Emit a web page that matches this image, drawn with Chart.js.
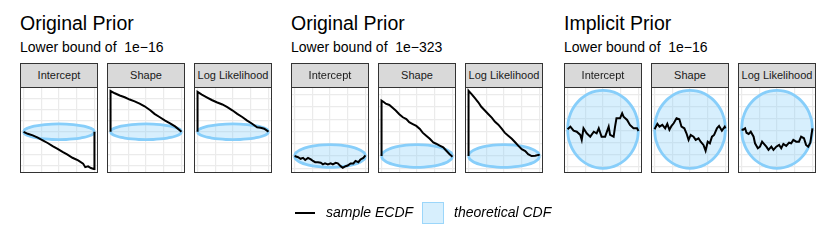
<!DOCTYPE html>
<html>
<head>
<meta charset="utf-8">
<script src="https://cdn.jsdelivr.net/npm/chart.js@4.4.0/dist/chart.umd.min.js"></script>
<style>
  body { margin: 0; width: 830px; height: 249px; background: #fff; position: relative; overflow: hidden;
         font-family: "Liberation Sans", Arial, sans-serif; color: #000; }
  .title { position: absolute; top: 14px; font-size: 19.5px; line-height: 1; white-space: pre; }
  .subtitle { position: absolute; top: 40px; font-size: 14px; line-height: 1; white-space: pre; }
  .strip { position: absolute; top: 63px; width: 78px; height: 25px; box-sizing: border-box; border: 1px solid #333;
           background: #d9d9d9; font-size: 11px; line-height: 23px; text-align: center; color: #1a1a1a; white-space: nowrap; overflow: hidden; }
  .panel { position: absolute; top: 87px; width: 78px; height: 86px; }
  .panel canvas { position: absolute; left: 0; top: 0; }
  .frame { position: absolute; left: 0; top: 0; width: 78px; height: 86px; box-sizing: border-box; border: 1px solid #333; }
  .legend-text { position: absolute; top: 205px; font-size: 14px; line-height: 1; font-style: italic; white-space: pre; }
  .legend-line { position: absolute; left: 295px; top: 212px; width: 20px; height: 2px; background: #000; }
  .legend-box { position: absolute; left: 422px; top: 202px; width: 22px; height: 22px; box-sizing: border-box;
                border: 1.5px solid rgba(135, 206, 250, 0.75); background: rgba(135, 206, 250, 0.33); }
</style>
</head>
<body>
<script>
// facet labels
const facetNames = ['Intercept', 'Shape', 'Log Likelihood'];

// grid lines (x shared, y per group)
const xGrid = [0, 0.25, 0.5, 0.75, 1];
const g1Grid = [-0.75, -0.5, -0.25, 0, 0.25, 0.5, 0.75];
const g2Grid = [-0.2, 0, 0.2, 0.4, 0.6, 0.8, 1.0];
const g3Grid = [-0.186, -0.126, -0.066, -0.006, 0.054, 0.114, 0.174];

// theoretical band
const bandX = [0, 0.01, 0.03, 0.06, 0.1, 0.15, 0.2, 0.3, 0.4, 0.5, 0.6, 0.7, 0.8, 0.85, 0.9, 0.94, 0.97, 0.99, 1];
const band1Upper = [0, 0.035, 0.06, 0.083, 0.105, 0.125, 0.14, 0.16, 0.172, 0.175, 0.172, 0.16, 0.14, 0.125, 0.105, 0.083, 0.06, 0.035, 0];
const band1Lower = [0, -0.035, -0.06, -0.083, -0.105, -0.125, -0.14, -0.16, -0.172, -0.175, -0.172, -0.16, -0.14, -0.125, -0.105, -0.083, -0.06, -0.035, 0];
const band2Upper = [0, 0.037, 0.063, 0.088, 0.111, 0.132, 0.148, 0.17, 0.181, 0.185, 0.181, 0.17, 0.148, 0.132, 0.111, 0.088, 0.063, 0.037, 0];
const band2Lower = [0, -0.037, -0.063, -0.088, -0.111, -0.132, -0.148, -0.17, -0.181, -0.185, -0.181, -0.17, -0.148, -0.132, -0.111, -0.088, -0.063, -0.037, 0];
const band3Upper = [0, 0.039, 0.066, 0.093, 0.117, 0.139, 0.156, 0.179, 0.191, 0.195, 0.191, 0.179, 0.156, 0.139, 0.117, 0.093, 0.066, 0.039, 0];
const band3Lower = [0, -0.039, -0.066, -0.093, -0.117, -0.139, -0.156, -0.179, -0.191, -0.195, -0.191, -0.179, -0.156, -0.139, -0.117, -0.093, -0.066, -0.039, 0];

// sample ECDF difference, Original Prior 1e-16
const g1InterceptX = [0, 0.06, 0.13, 0.2, 0.27, 0.34, 0.41, 0.48, 0.55, 0.62, 0.69, 0.77, 0.84, 0.87, 0.91, 0.95, 0.99, 1, 1];
const g1InterceptY = [0, -0.045, -0.08, -0.13, -0.19, -0.25, -0.32, -0.38, -0.45, -0.51, -0.58, -0.64, -0.71, -0.79, -0.77, -0.81, -0.83, -0.83, 0];
const g1ShapeX = [0, 0, 0.06, 0.13, 0.2, 0.27, 0.34, 0.41, 0.48, 0.56, 0.62, 0.69, 0.77, 0.84, 0.91, 0.98, 1];
const g1ShapeY = [0, 0.91, 0.86, 0.81, 0.77, 0.72, 0.68, 0.63, 0.57, 0.48, 0.40, 0.33, 0.25, 0.19, 0.12, 0.03, 0];
const g1LogLikX = [0, 0, 0.06, 0.13, 0.2, 0.27, 0.35, 0.42, 0.49, 0.56, 0.63, 0.70, 0.77, 0.84, 0.89, 0.94, 0.99, 1];
const g1LogLikY = [0, 0.89, 0.83, 0.77, 0.71, 0.66, 0.61, 0.55, 0.48, 0.40, 0.33, 0.25, 0.18, 0.10, 0.09, 0.07, 0.015, 0];

// Original Prior 1e-323
const g2InterceptX = [0, 0.05, 0.085, 0.12, 0.15, 0.19, 0.23, 0.26, 0.29, 0.33, 0.37, 0.40, 0.43, 0.47, 0.51, 0.54, 0.58, 0.61, 0.65, 0.68, 0.72, 0.75, 0.79, 0.83, 0.86, 0.9, 0.93, 0.97, 1];
const g2InterceptY = [0, -0.02, -0.045, -0.03, -0.065, -0.03, -0.055, -0.08, -0.1, -0.1, -0.11, -0.135, -0.12, -0.135, -0.12, -0.135, -0.11, -0.12, -0.165, -0.19, -0.165, -0.155, -0.12, -0.12, -0.08, -0.1, -0.055, -0.03, 0.01];
const g2ShapeX = [0, 0, 0.04, 0.06, 0.11, 0.16, 0.2, 0.25, 0.3, 0.35, 0.39, 0.44, 0.49, 0.54, 0.58, 0.63, 0.68, 0.73, 0.77, 0.82, 0.87, 0.91, 0.96, 1];
const g2ShapeY = [0, 0.9, 0.87, 0.85, 0.83, 0.78, 0.74, 0.68, 0.63, 0.6, 0.55, 0.52, 0.49, 0.44, 0.38, 0.33, 0.28, 0.22, 0.2, 0.17, 0.14, 0.09, 0.03, -0.01];
const g2LogLikX = [0, 0, 0.04, 0.09, 0.14, 0.18, 0.23, 0.28, 0.33, 0.37, 0.42, 0.47, 0.51, 0.56, 0.61, 0.66, 0.7, 0.75, 0.8, 0.84, 0.89, 0.94, 0.99, 1];
const g2LogLikY = [0, 1.06, 1.01, 0.94, 0.87, 0.8, 0.74, 0.68, 0.62, 0.56, 0.51, 0.44, 0.38, 0.33, 0.28, 0.22, 0.17, 0.11, 0.08, 0.03, 0, 0.005, 0.02, 0.005];

// Implicit Prior 1e-16
const g3InterceptX = [0, 0.04, 0.085, 0.13, 0.18, 0.2, 0.225, 0.27, 0.32, 0.37, 0.41, 0.44, 0.48, 0.53, 0.58, 0.6, 0.65, 0.67, 0.69, 0.74, 0.77, 0.79, 0.84, 0.88, 0.93, 0.98, 1];
const g3InterceptY = [0, 0.013, -0.007, -0.012, -0.028, -0.053, 0.005, -0.02, -0.037, -0.012, -0.02, 0.005, -0.037, -0.037, 0.013, -0.028, -0.037, 0.013, 0.055, 0.055, 0.08, 0.063, 0.047, 0.022, 0.005, 0.005, -0.008];
const g3ShapeX = [0, 0.04, 0.07, 0.11, 0.15, 0.18, 0.21, 0.24, 0.27, 0.31, 0.35, 0.38, 0.42, 0.45, 0.48, 0.51, 0.55, 0.58, 0.62, 0.65, 0.69, 0.72, 0.75, 0.78, 0.81, 0.84, 0.88, 0.91, 0.95, 0.99, 1];
const g3ShapeY = [0, 0.027, 0.013, 0.022, 0.005, 0.027, -0.003, 0.017, 0.03, 0.055, 0.05, 0.013, 0.005, -0.02, -0.053, -0.028, -0.037, -0.053, -0.045, -0.062, -0.078, -0.107, -0.062, -0.07, -0.037, -0.028, 0.005, 0.017, -0.007, 0.013, 0.005];
const g3LogLikX = [0, 0.02, 0.05, 0.07, 0.1, 0.13, 0.17, 0.19, 0.23, 0.26, 0.29, 0.31, 0.35, 0.38, 0.42, 0.45, 0.49, 0.53, 0.56, 0.59, 0.63, 0.67, 0.7, 0.73, 0.77, 0.81, 0.84, 0.88, 0.91, 0.94, 0.97, 1];
const g3LogLikY = [0, -0.003, 0.005, -0.017, -0.023, -0.012, -0.037, -0.07, -0.095, -0.087, -0.062, -0.07, -0.087, -0.103, -0.087, -0.103, -0.087, -0.078, -0.095, -0.073, -0.083, -0.067, -0.07, -0.053, -0.062, -0.062, -0.037, -0.045, -0.078, -0.087, -0.067, 0.005];

const bandLine = '#87cefa';
const bandFill = 'rgba(135, 206, 250, 0.33)';

const groups = [
    { left: 20, title: 'Original Prior', bound: '1e\u221216', yMin: -0.92, yMax: 1.0, yGrid: g1Grid,
      upper: band1Upper, lower: band1Lower,
      series: [[g1InterceptX, g1InterceptY], [g1ShapeX, g1ShapeY], [g1LogLikX, g1LogLikY]] },
    { left: 291, title: 'Original Prior', bound: '1e\u2212323', yMin: -0.276, yMax: 1.122, yGrid: g2Grid,
      upper: band2Upper, lower: band2Lower,
      series: [[g2InterceptX, g2InterceptY], [g2ShapeX, g2ShapeY], [g2LogLikX, g2LogLikY]] },
    { left: 564, title: 'Implicit Prior', bound: '1e\u221216', yMin: -0.2185, yMax: 0.2115, yGrid: g3Grid,
      upper: band3Upper, lower: band3Lower,
      series: [[g3InterceptX, g3InterceptY], [g3ShapeX, g3ShapeY], [g3LogLikX, g3LogLikY]] },
];
const panelOffsets = [0, 87, 174];

function toPoints(xs, ys) {
    return xs.map((x, i) => ({ x: x, y: ys[i] }));
}

function addDiv(cls, left, text) {
    const div = document.createElement('div');
    div.className = cls;
    div.style.left = left + 'px';
    if (text !== undefined) div.textContent = text;
    document.body.appendChild(div);
    return div;
}

function gridAxis(min, max, grid) {
    return {
        type: 'linear',
        min: min,
        max: max,
        afterBuildTicks: (scale) => { scale.ticks = grid.map((v) => ({ value: v })); },
        grid: { color: '#ebebeb', lineWidth: 1.2, drawTicks: false },
        border: { display: false },
        ticks: { display: false },
    };
}

function makePanel(left, group, series) {
    const host = addDiv('panel', left);
    const canvas = document.createElement('canvas');
    canvas.width = 78;
    canvas.height = 86;
    host.appendChild(canvas);
    const frame = document.createElement('div');
    frame.className = 'frame';
    host.appendChild(frame);

    new Chart(canvas, {
        type: 'line',
        data: {
            datasets: [
                { data: toPoints(bandX, group.upper), borderColor: bandLine, borderWidth: 2.8, pointRadius: 0,
                  fill: false, cubicInterpolationMode: 'monotone', order: 2 },
                { data: toPoints(bandX, group.lower), borderColor: bandLine, borderWidth: 2.8, pointRadius: 0,
                  backgroundColor: bandFill, fill: '-1', cubicInterpolationMode: 'monotone', order: 1 },
                { data: toPoints(series[0], series[1]), borderColor: '#000', borderWidth: 2, pointRadius: 0,
                  fill: false, order: 0 },
            ],
        },
        options: {
            responsive: false,
            animation: false,
            devicePixelRatio: 1,
            layout: { padding: 0, autoPadding: false },
            plugins: {
                legend: { display: false },
                tooltip: { enabled: false },
                filler: { drawTime: 'beforeDatasetsDraw' },
            },
            scales: {
                x: gridAxis(-0.05, 1.05, xGrid),
                y: gridAxis(group.yMin, group.yMax, group.yGrid),
            },
        },
    });
}

groups.forEach((group) => {
    addDiv('title', group.left, group.title);
    addDiv('subtitle', group.left, 'Lower bound of  ' + group.bound);
    group.series.forEach((series, i) => {
        const left = group.left + panelOffsets[i];
        addDiv('strip', left, facetNames[i]);
        makePanel(left, group, series);
    });
});

// legend
addDiv('legend-line', 295);
addDiv('legend-text', 326, 'sample ECDF');
addDiv('legend-box', 422);
addDiv('legend-text', 454, 'theoretical CDF');
</script>
</body>
</html>
